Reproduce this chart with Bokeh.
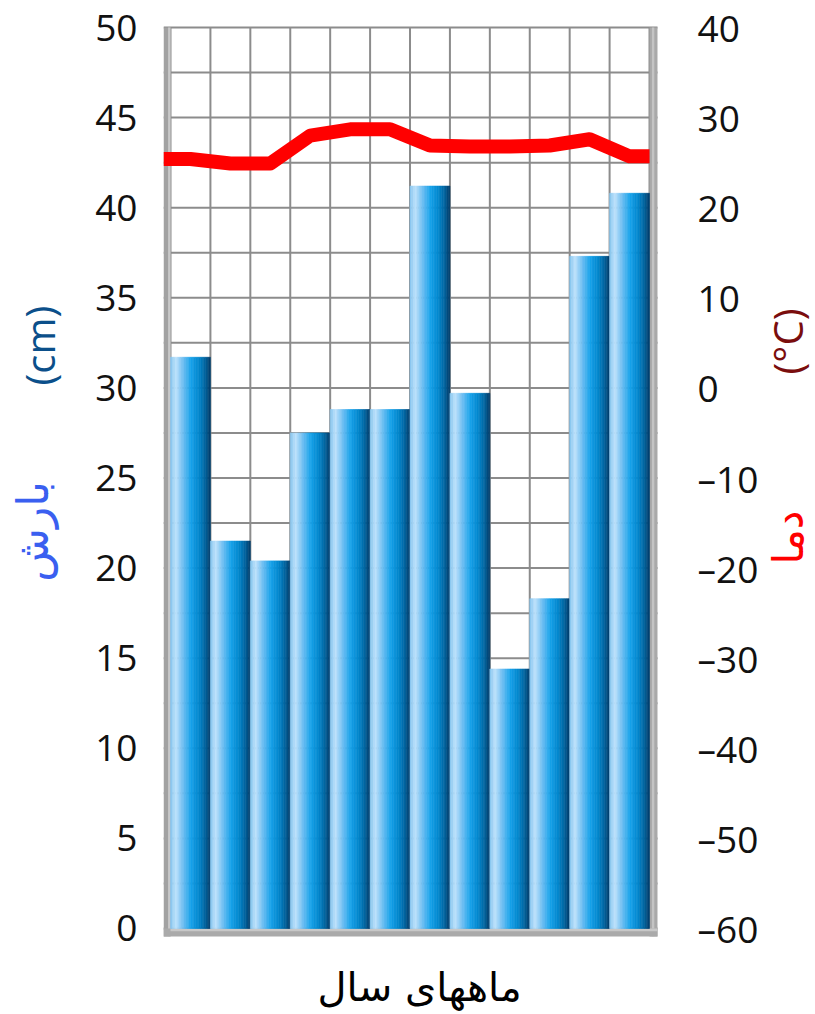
import math
from bokeh.plotting import figure
from bokeh.models import Range1d, LinearAxis, FixedTicker, ColumnDataSource, Label
from bokeh.embed import file_html
from bokeh.resources import INLINE

# ---------------- data ----------------
months = list(range(1, 13))
precip_cm = [31.7, 21.5, 20.4, 27.5, 28.8, 28.8, 41.2, 29.7, 14.4, 18.3, 37.3, 40.8]
temp_c = [25.4, 24.9, 24.9, 28.0, 28.7, 28.7, 26.9, 26.8, 26.8, 26.9, 27.6, 25.7]
precip_ticks = [0, 5, 10, 15, 20, 25, 30, 35, 40, 45, 50]
temp_ticks = [-60, -50, -40, -30, -20, -10, 0, 10, 20, 30, 40]
temp_tick_labels = ["–60", "–50", "–40", "–30", "–20", "–10", "0", "10", "20", "30", "40"]
x_title = "ماههای سال"
precip_title = "بارش"
precip_unit = "(cm)"
temp_title = "دما"
temp_unit = "(°C)"

NB = "\u00a0"

# ---------------- layout ----------------
# chart box (walls / floor) in data units
BOX_L, BOX_R = 0.3247, 12.70
BOX_B, BOX_T = -0.444, 50
# full frame (extends to the right canvas edge so that titles can sit there)
FR_L, FR_R = 0.3247, 16.658
FR_B, FR_T = -1.221, 51.498
TEMP_B, TEMP_T = -62.442, 42.997
GRID_STEP = 2.5

p = figure(width=815, height=1012, output_backend="svg", toolbar_location=None,
           x_range=Range1d(FR_L, FR_R), y_range=Range1d(FR_B, FR_T),
           x_axis_location=None, min_border_left=163, min_border_right=0,
           min_border_top=0, min_border_bottom=62)
p.extra_y_ranges = {"temp": Range1d(TEMP_B, TEMP_T)}
p.outline_line_color = None
p.background_fill_color = "white"
p.xgrid.visible = False
p.ygrid.visible = False

def plain(ax):
    ax.axis_line_color = None
    ax.major_tick_line_color = None
    ax.minor_tick_line_color = None
    ax.major_tick_out = 0
    ax.major_tick_in = 0
    ax.minor_tick_out = 0
    ax.minor_tick_in = 0

# left axis (precipitation)
ya = p.yaxis[0]
ya.ticker = FixedTicker(ticks=precip_ticks)
plain(ya)
ya.major_label_standoff = 26
ya.major_label_text_font = "Open Sans"
ya.major_label_text_font_size = "37px"
ya.major_label_text_color = "#111111"

def title_axis(side, text, color, font, size, standoff, orient, **kw):
    ax = LinearAxis(ticker=FixedTicker(ticks=[]), axis_label=text, **kw)
    plain(ax)
    ax.major_label_text_font_size = "0px"
    ax.major_label_standoff = 0
    ax.axis_label_text_color = color
    ax.axis_label_text_font = font
    ax.axis_label_text_font_size = size
    ax.axis_label_text_font_style = "normal"
    ax.axis_label_standoff = standoff
    ax.axis_label_orientation = orient
    p.add_layout(ax, side)
    return ax

title_axis("left", NB * 25 + precip_unit, "#0b4f8a", "Open Sans", "40px", 26, "parallel")
title_axis("left", precip_title + NB * 8, "#3a5ff0", "DejaVu Sans", "44px", -49, "parallel")
title_axis("below", x_title + NB * 11, "#000000", "DejaVu Sans", "40px", 13, "horizontal")

# right temperature axis, fixed at the right wall of the chart box
ra = LinearAxis(y_range_name="temp", ticker=FixedTicker(ticks=temp_ticks),
                fixed_location=BOX_R,
                major_label_overrides={t: s for t, s in zip(temp_ticks, temp_tick_labels)})
plain(ra)
ra.major_label_standoff = 40
ra.major_label_text_font = "Open Sans"
ra.major_label_text_font_size = "37px"
ra.major_label_text_color = "#111111"
p.add_layout(ra, "right")

# grid lines, only inside the chart box
v_lines = [m - 0.5 for m in months] + [months[-1] + 0.5]
h_lines = [i * GRID_STEP for i in range(int(BOX_T / GRID_STEP) + 1)]
p.segment(x0=v_lines, y0=[0] * len(v_lines), x1=v_lines, y1=[BOX_T] * len(v_lines),
          line_color="#8c8c8c", line_width=2)
p.segment(x0=[BOX_L] * len(h_lines), y0=h_lines, x1=[BOX_R] * len(h_lines), y1=h_lines,
          line_color="#8c8c8c", line_width=2)

# walls and floor (3D frame look)
p.quad(left=[BOX_L], right=[0.5], bottom=[BOX_B], top=[BOX_T], fill_color="#a2a2a2", line_color=None)
p.quad(left=[0.5 - 0.06], right=[0.5], bottom=[BOX_B], top=[BOX_T], fill_color="#c9c9c9", line_color=None)
p.quad(left=[12.5], right=[BOX_R], bottom=[BOX_B], top=[BOX_T], fill_color="#a9a9a9", line_color=None)
p.quad(left=[12.5 + 0.06], right=[12.5 + 0.12], bottom=[BOX_B], top=[BOX_T], fill_color="#c4c4c4", line_color=None)
p.quad(left=[BOX_L], right=[BOX_R], bottom=[BOX_B], top=[0], fill_color="#aaaaaa", line_color=None)
p.quad(left=[0.5], right=[BOX_R], bottom=[-0.15], top=[0], fill_color="#c8c8c8", line_color=None)

# gradient bars as vertical strips
stops = [(0.00, (130, 196, 238)), (0.14, (190, 226, 251)), (0.32, (110, 190, 242)),
         (0.52, (22, 162, 234)), (0.72, (2, 134, 204)), (0.88, (0, 98, 156)), (1.00, (0, 58, 104))]

def grad(t):
    for (a, ca), (b, cb) in zip(stops[:-1], stops[1:]):
        if a <= t <= b:
            f = (t - a) / (b - a)
            c = [round(ca[i] + (cb[i] - ca[i]) * f) for i in range(3)]
            return "#%02x%02x%02x" % tuple(c)
    return "#%02x%02x%02x" % stops[-1][1]

n = 24
L, R, T, B, C = [], [], [], [], []
for m, v in zip(months, precip_cm):
    for k in range(n):
        L.append(m - 0.5 + k / n)
        R.append(m - 0.5 + (k + 1) / n)
        T.append(v)
        B.append(0)
        C.append(grad((k + 0.5) / n))
src = ColumnDataSource(dict(left=L, right=R, top=T, bottom=B, color=C))
p.quad(left="left", right="right", top="top", bottom="bottom", fill_color="color",
       line_color="color", line_width=0.6, source=src)

# temperature line
ext_x = [BOX_L] + months + [months[-1] + 0.5]
ext_y = [temp_c[0]] + temp_c + [temp_c[-1]]
p.line(ext_x, ext_y, y_range_name="temp", line_color="#ff0000", line_width=14,
       line_join="round")

# right-hand titles (inside the extended frame)
p.add_layout(Label(x=15.956, y=32.575, text=temp_unit, angle=math.pi / 2,
                   text_align="center", text_baseline="middle", text_font="Open Sans",
                   text_font_size="40px", text_color="#7a0d0d"))
p.add_layout(Label(x=15.981, y=21.70, text=temp_title, angle=math.pi / 2,
                   text_align="center", text_baseline="middle", text_font="DejaVu Sans",
                   text_font_size="42px", text_color="#ff0000"))

open("out.html", "w").write(file_html(p, INLINE))
